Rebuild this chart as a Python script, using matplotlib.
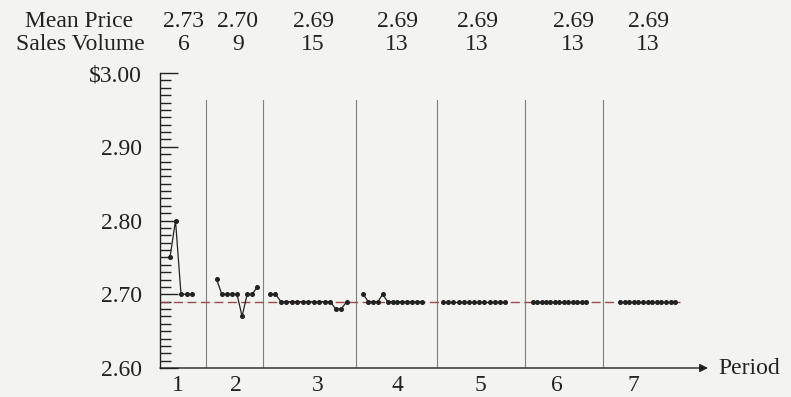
import numpy as np
import matplotlib.pyplot as plt

plt.rcParams['font.family'] = ['Liberation Serif', 'DejaVu Serif']

periods = ["1", "2", "3", "4", "5", "6", "7"]
mean_price = ["2.73", "2.70", "2.69", "2.69", "2.69", "2.69", "2.69"]
sales_volume = ["6", "9", "15", "13", "13", "13", "13"]
equilibrium = 2.69

# contract prices per period, in trade order
p1 = [2.75, 2.80, 2.70, 2.70, 2.70]
p2 = [2.72, 2.70, 2.70, 2.70, 2.70, 2.67, 2.70, 2.70, 2.71]
p3 = [2.70, 2.70, 2.69, 2.69, 2.69, 2.69, 2.69, 2.69, 2.69, 2.69, 2.69, 2.69,
      2.68, 2.68, 2.69]
p4 = [2.70, 2.69, 2.69, 2.69, 2.70, 2.69, 2.69, 2.69, 2.69, 2.69, 2.69, 2.69, 2.69]
p5 = [2.69, 2.69, 2.69, 2.69, 2.69, 2.69, 2.69, 2.69, 2.69, 2.69, 2.69, 2.69, 2.69]
p6 = [2.69, 2.69, 2.69, 2.69, 2.69, 2.69, 2.69, 2.69, 2.69, 2.69, 2.69, 2.69, 2.69]
p7 = [2.69, 2.69, 2.69, 2.69, 2.69, 2.69, 2.69, 2.69, 2.69, 2.69, 2.69, 2.69, 2.69]
prices = [p1, p2, p3, p4, p5, p6, p7]

# layout (horizontal positions along the period axis)
span = [(10, 32), (56.7, 97.3), (110, 186.7), (203.3, 261.7), (283, 345),
        (372.7, 426), (460, 515.3)]
separators = [46, 103, 196, 277, 365, 443]
label_x = [18, 76, 158, 237, 320, 397, 473]
head_x = [24, 78, 153, 237, 317, 413, 488]

bg = '#f3f3f1'
ink = '#222222'

fig = plt.figure(figsize=(7.91, 3.97), dpi=100, facecolor=bg)
ax = fig.add_axes([160/791, 1-368/397, 550/791, 295/397])
ax.set_facecolor(bg)
ax.set_xlim(0, 550)
ax.set_ylim(2.60, 3.00)

for s in separators:
    ax.plot([s, s], [2.60, 2.963], color='#808080', lw=0.8, zorder=1)

ax.plot([0, 520], [equilibrium, equilibrium], color='#9a4a4a', lw=1.0,
        dashes=(6.5, 3.2), zorder=2)

for (a, b), pr in zip(span, prices):
    xs = np.linspace(a, b, len(pr))
    ax.plot(xs, pr, '-', color=ink, lw=0.9, marker='o', ms=2.6, zorder=3)

for sp in ['top', 'right', 'bottom']:
    ax.spines[sp].set_visible(False)
ax.spines['left'].set_color(ink)
ax.spines['left'].set_linewidth(1.0)

ax.annotate('', xy=(548, 2.60), xytext=(0, 2.60), annotation_clip=False,
            arrowprops=dict(arrowstyle='-|>', color=ink, lw=1.0,
                            mutation_scale=12, shrinkA=0, shrinkB=0))
ax.text(558, 2.60, "Period", ha='left', va='center', fontsize=17, color=ink,
        clip_on=False)

ax.set_xticks([])
ax.set_yticks([2.60, 2.70, 2.80, 2.90, 3.00])
ax.set_yticklabels(["2.60", "2.70", "2.80", "2.90", "\\$3.00"])
ax.set_yticks(np.arange(2.60, 3.001, 0.01), minor=True)
ax.tick_params(axis='y', which='major', direction='in', length=13, width=1.0,
               color=ink, labelsize=17, labelcolor=ink, pad=13)
ax.tick_params(axis='y', which='minor', direction='in', length=8, width=1.0,
               color=ink)

for x, lab in zip(label_x, periods):
    ax.text(x, -0.058, lab, transform=ax.get_xaxis_transform(), ha='center',
            va='center', fontsize=17, color=ink, clip_on=False)

ax.text(-27, 1.173, "Mean Price", transform=ax.get_xaxis_transform(),
        ha='right', va='center', fontsize=17, color=ink, clip_on=False)
ax.text(-15, 1.098, "Sales Volume", transform=ax.get_xaxis_transform(),
        ha='right', va='center', fontsize=17, color=ink, clip_on=False)
for x, mp, sv in zip(head_x, mean_price, sales_volume):
    ax.text(x, 1.173, mp, transform=ax.get_xaxis_transform(), ha='center',
            va='center', fontsize=17, color=ink, clip_on=False)
    ax.text(x, 1.098, sv, transform=ax.get_xaxis_transform(), ha='center',
            va='center', fontsize=17, color=ink, clip_on=False)

fig.savefig("out.png", dpi=100, facecolor=bg)
